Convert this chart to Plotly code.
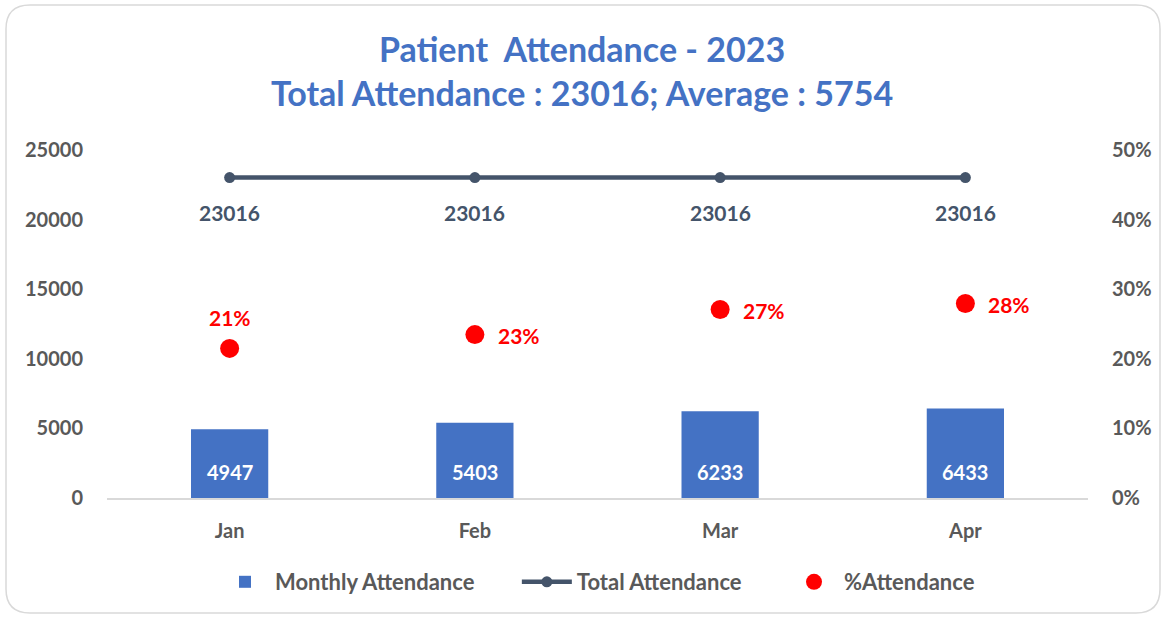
import plotly.graph_objects as go

months = ["Jan", "Feb", "Mar", "Apr"]
monthly = [4947, 5403, 6233, 6433]
total = [23016, 23016, 23016, 23016]
pct = [m / t for m, t in zip(monthly, total)]
pct_labels = ["21%", "23%", "27%", "28%"]

FONT = "Lato"
GREY = "#595959"
BLUE = "#4472C4"
SLATE = "#44546A"
PAD = "\u00a0" * 7  # spacing after legend entries

fig = go.Figure()
fig.add_trace(go.Bar(
    x=months, y=monthly, name="Monthly Attendance" + PAD,
    marker=dict(color=BLUE, line=dict(width=0)), width=0.315,
))
fig.add_trace(go.Scatter(
    x=months, y=total, name="Total Attendance" + PAD, mode="lines+markers",
    line=dict(color=SLATE, width=4.5), marker=dict(color=SLATE, size=11),
))
fig.add_trace(go.Scatter(
    x=months, y=pct, name="%Attendance", mode="markers", yaxis="y2",
    marker=dict(color="#FF0000", size=19),
))

annotations = []
for m, v in zip(months, monthly):
    annotations.append(dict(x=m, y=0, xref="x", yref="y", text=str(v), showarrow=False,
                            yanchor="middle", yshift=26,
                            font=dict(color="white", size=20, family=FONT, weight="bold")))
for m, v in zip(months, total):
    annotations.append(dict(x=m, y=v, xref="x", yref="y", text=str(v), showarrow=False,
                            yanchor="middle", yshift=-35,
                            font=dict(color=SLATE, size=21, family=FONT, weight="bold")))
for i, (m, v, lab) in enumerate(zip(months, pct, pct_labels)):
    if i == 0:
        pos = dict(xanchor="center", yshift=31, xshift=0)
    else:
        pos = dict(xanchor="left", yshift=-1, xshift=21)
    annotations.append(dict(x=m, y=v, xref="x", yref="y2", text=lab, showarrow=False,
                            yanchor="middle", **pos,
                            font=dict(color="#FF0000", size=21, family=FONT, weight="bold")))

# rounded border around the whole figure (pixel -> paper conversion)
L, R, T, B = 107, 76, 150, 120
W, H = 1164, 618
pw, ph = W - L - R, H - T - B
def px(x):
    return (x - L) / pw
def py(y):
    return (H - B - y) / ph
x0, x1, y0, y1, r = 6, 1160, 5, 613, 24
path = (f"M {px(x0+r)},{py(y0)} L {px(x1-r)},{py(y0)} Q {px(x1)},{py(y0)} {px(x1)},{py(y0+r)} "
        f"L {px(x1)},{py(y1-r)} Q {px(x1)},{py(y1)} {px(x1-r)},{py(y1)} "
        f"L {px(x0+r)},{py(y1)} Q {px(x0)},{py(y1)} {px(x0)},{py(y1-r)} "
        f"L {px(x0)},{py(y0+r)} Q {px(x0)},{py(y0)} {px(x0+r)},{py(y0)} Z")

tickfont = dict(family=FONT, size=20, color=GREY, weight="bold")
fig.update_layout(
    width=W, height=H,
    margin=dict(l=L, r=R, t=T, b=B, autoexpand=False),
    paper_bgcolor="white", plot_bgcolor="white",
    font=dict(family=FONT, color=GREY),
    title=dict(
        text="Patient  Attendance - 2023<br>Total Attendance : 23016; Average : 5754",
        x=0.5, xanchor="center", y=(H - 62) / H, yanchor="middle",
        font=dict(family=FONT, size=34, color=BLUE, weight="bold"),
    ),
    showlegend=True,
    legend=dict(orientation="h", x=0.5, xanchor="center", y=py(582), yanchor="middle",
                font=dict(family=FONT, size=22, color=GREY, weight="bold"),
                itemwidth=50, traceorder="normal", bgcolor="rgba(0,0,0,0)"),
    xaxis=dict(range=[-0.5, 3.5], showgrid=False, showline=True, linecolor="#D9D9D9", linewidth=1.5,
               ticks="outside", ticklen=14, tickcolor="rgba(0,0,0,0)", tickfont=tickfont),
    yaxis=dict(range=[0, 25000], dtick=5000, tickformat="d", showgrid=False, zeroline=False,
               showline=False, ticks="outside", ticklen=19, tickcolor="rgba(0,0,0,0)",
               tickfont=tickfont),
    yaxis2=dict(range=[0, 0.5], dtick=0.1, tickformat=".0%", overlaying="y", side="right",
                showgrid=False, zeroline=False, showline=False,
                ticks="outside", ticklen=19, tickcolor="rgba(0,0,0,0)", tickfont=tickfont),
    annotations=annotations,
    shapes=[dict(type="path", path=path, xref="paper", yref="paper",
                 line=dict(color="#D9D9D9", width=1.5), layer="below")],
    hovermode=False,
)
fig.write_html("out.html", post_script="document.body.style.margin='0';",
               config={"displayModeBar": False})
